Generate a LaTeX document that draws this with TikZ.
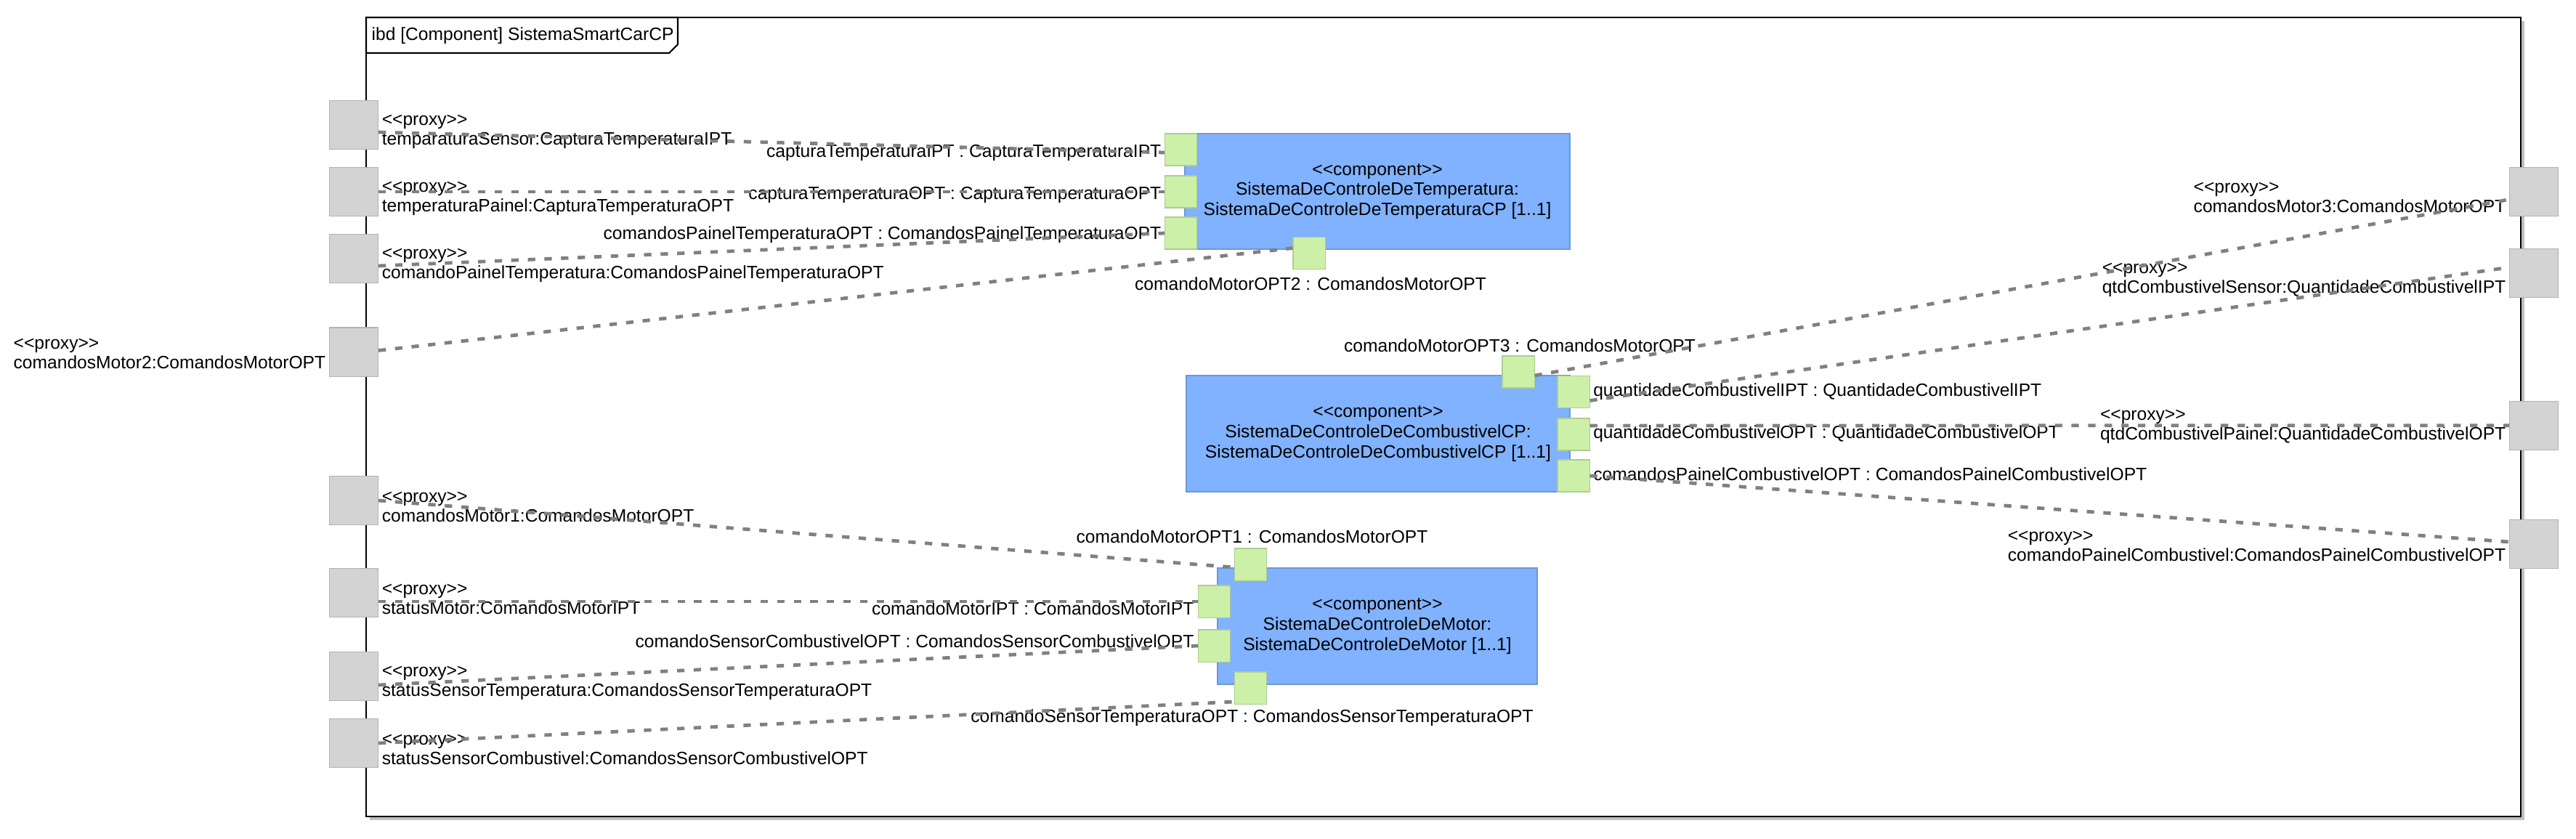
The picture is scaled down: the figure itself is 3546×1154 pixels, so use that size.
\documentclass[tikz,border=0pt]{standalone}
\usepackage{fontspec}
\setmainfont{Liberation Sans}[Ligatures=TeXOff]
\usepackage{tikz}
\usetikzlibrary{%
  positioning,%
  calc%
}

\definecolor{portgray}{RGB}{211,211,211}
\definecolor{portgreen}{RGB}{205,240,168}
\definecolor{compblue}{RGB}{128,178,255}
\definecolor{linkgray}{RGB}{128,128,128}

\tikzset{
  proxyport/.style={rectangle, fill=portgray, draw=portgray!85!black, line width=0.3pt,
    minimum width=0.67cm, minimum height=0.67cm, inner sep=0pt},
  partport/.style={rectangle, fill=portgreen, draw=portgreen!85!black, line width=0.3pt,
    minimum width=0.44cm, minimum height=0.44cm, inner sep=0pt},
  component/.style={rectangle, fill=compblue, draw=compblue!85!black, line width=0.4pt,
    align=center, inner sep=0pt, font=\fontsize{7}{7.9}\selectfont},
  lbl/.style={inner sep=0pt, align=left, font=\fontsize{7}{7.7}\selectfont},
  link/.style={draw=linkgray, line width=1.35pt, dash pattern=on 2.9pt off 3.6pt}
}

\begin{document}
\begin{tikzpicture}[x=0.01cm, y=-0.01cm]
\useasboundingbox (0,0) rectangle (3546,1154);
% frame
\fill[black!25] (509,29) rectangle (3475,1129);
\draw[line width=0.6pt, fill=white] (504,24) rectangle (3470,1124);
\draw[line width=0.6pt, fill=white] (504,24) -- (933,24) -- (933,61) -- (921,73) -- (504,73) -- cycle;
\node[lbl, anchor=west] (title) at (511,49) {ibd [Component] SistemaSmartCarCP};

% parts
\node[component, minimum width=5.30cm, minimum height=1.59cm] (temp) at (1896,263.5)
  {<<component>>\\SistemaDeControleDeTemperatura:\\SistemaDeControleDeTemperaturaCP [1..1]};
\node[component, minimum width=5.28cm, minimum height=1.60cm] (comb) at (1897,597)
  {<<component>>\\SistemaDeControleDeCombustivelCP:\\SistemaDeControleDeCombustivelCP [1..1]};
\node[component, minimum width=4.40cm, minimum height=1.60cm] (motor) at (1896,862)
  {<<component>>\\SistemaDeControleDeMotor:\\SistemaDeControleDeMotor [1..1]};

\node[partport] (gCapIPT) at (1625.5,206) {};
\node[partport] (gCapOPT) at (1625.5,264) {};
\node[partport] (gComPT) at (1625.5,321) {};
\node[partport] (gMotor2) at (1802,348.5) {};
\node[partport] (gMotor3) at (2090,512) {};
\node[partport] (gQtdIPT) at (2166,539.5) {};
\node[partport] (gQtdOPT) at (2166,598) {};
\node[partport] (gPainelC) at (2166,655) {};
\node[partport] (gMotor1) at (1721.5,777) {};
\node[partport] (gMotorIPT) at (1671.7,828) {};
\node[partport] (gSensC) at (1671.7,889) {};
\node[partport] (gSensT) at (1721.5,947) {};

\node[lbl, anchor=east] at ($(gCapIPT.west)+(-4,4)$) {capturaTemperaturaIPT : CapturaTemperaturaIPT};
\node[lbl, anchor=east] at ($(gCapOPT.west)+(-4,4)$) {capturaTemperaturaOPT : CapturaTemperaturaOPT};
\node[lbl, anchor=east] at ($(gComPT.west)+(-4,2)$) {comandosPainelTemperaturaOPT : ComandosPainelTemperaturaOPT};
\node[lbl] at ($(gMotor2.south)+(2,20)$) {comandoMotorOPT2 : ComandosMotorOPT};
\node[lbl] at ($(gMotor3.north)+(2,-14)$) {comandoMotorOPT3 : ComandosMotorOPT};
\node[lbl, anchor=west] at ($(gQtdIPT.east)+(4,0)$) {quantidadeCombustivelIPT : QuantidadeCombustivelIPT};
\node[lbl, anchor=west] at ($(gQtdOPT.east)+(4,-1)$) {quantidadeCombustivelOPT : QuantidadeCombustivelOPT};
\node[lbl, anchor=west] at ($(gPainelC.east)+(4,-2)$) {comandosPainelCombustivelOPT : ComandosPainelCombustivelOPT};
\node[lbl] at ($(gMotor1.north)+(2,-16)$) {comandoMotorOPT1 : ComandosMotorOPT};
\node[lbl, anchor=east] at ($(gMotorIPT.west)+(-5,10)$) {comandoMotorIPT : ComandosMotorIPT};
\node[lbl, anchor=east] at ($(gSensC.west)+(-5,-6)$) {comandoSensorCombustivelOPT : ComandosSensorCombustivelOPT};
\node[lbl] at ($(gSensT.south)+(2,19)$) {comandoSensorTemperaturaOPT : ComandosSensorTemperaturaOPT};

% proxy ports
\node[proxyport] (tSensor) at (487,172) {};
\node[proxyport] (tPainel) at (487,264) {};
\node[proxyport] (cPainelT) at (487,356) {};
\node[proxyport] (cMotor2) at (487,484.5) {};
\node[proxyport] (cMotor1) at (487,689) {};
\node[proxyport] (sMotor) at (487,816) {};
\node[proxyport] (sSensT) at (487,931) {};
\node[proxyport] (sSensC) at (487,1023) {};
\node[proxyport] (cMotor3) at (3488,263.6) {};
\node[proxyport] (qSensor) at (3488,376) {};
\node[proxyport] (qPainel) at (3488,585.7) {};
\node[proxyport] (cPainelC) at (3488,749) {};

\node[lbl, anchor=west] at ($(tSensor.east)+(4,9)$) {<<proxy>>\\temparaturaSensor:CapturaTemperaturaIPT};
\node[lbl, anchor=west] at ($(tPainel.east)+(4,9)$) {<<proxy>>\\temperaturaPainel:CapturaTemperaturaOPT};
\node[lbl, anchor=west] at ($(cPainelT.east)+(4,9)$) {<<proxy>>\\comandoPainelTemperatura:ComandosPainelTemperaturaOPT};
\node[lbl, anchor=east] at ($(cMotor2.west)+(-4,2)$) {<<proxy>>\\comandosMotor2:ComandosMotorOPT};
\node[lbl, anchor=west] at ($(cMotor1.east)+(4,9)$) {<<proxy>>\\comandosMotor1:ComandosMotorOPT};
\node[lbl, anchor=west] at ($(sMotor.east)+(4,9)$) {<<proxy>>\\statusMotor:ComandosMotorIPT};
\node[lbl, anchor=west] at ($(sSensT.east)+(4,9)$) {<<proxy>>\\statusSensorTemperatura:ComandosSensorTemperaturaOPT};
\node[lbl, anchor=west] at ($(sSensC.east)+(4,9)$) {<<proxy>>\\statusSensorCombustivel:ComandosSensorCombustivelOPT};
\node[lbl, anchor=east] at ($(cMotor3.west)+(-4,8)$) {<<proxy>>\\comandosMotor3:ComandosMotorOPT};
\node[lbl, anchor=east] at ($(qSensor.west)+(-4,9)$) {<<proxy>>\\qtdCombustivelSensor:QuantidadeCombustivelIPT};
\node[lbl, anchor=east] at ($(qPainel.west)+(-4,2)$) {<<proxy>>\\qtdCombustivelPainel:QuantidadeCombustivelOPT};
\node[lbl, anchor=east] at ($(cPainelC.west)+(-4,3)$) {<<proxy>>\\comandoPainelCombustivel:ComandosPainelCombustivelOPT};

% connectors
\draw[link] ($(tSensor.east)+(0,10)$) -- ($(gCapIPT.west)+(0,4)$);
\draw[link] (tPainel.east) -- (gCapOPT.west);
\draw[link] ($(cPainelT.east)+(0,10)$) -- (gComPT.west);
\draw[link] ($(cMotor2.east)+(0,-2)$) -- ($(gMotor2.west)+(0,-7)$);
\draw[link] (cMotor1.east) -- ($(gMotor1.west)+(0,4)$);
\draw[link] ($(sMotor.east)+(0,12)$) -- (gMotorIPT.west);
\draw[link] ($(sSensT.east)+(0,12)$) -- (gSensC.west);
\draw[link] (sSensC.east) -- ($(gSensT.west)+(0,19)$);
\draw[link] ($(gMotor3.east)+(0,5)$) -- ($(cMotor3.west)+(0,11)$);
\draw[link] ($(gQtdIPT.east)+(0,12)$) -- ($(qSensor.west)+(0,-8)$);
\draw[link] ($(gQtdOPT.east)+(0,-12)$) -- (qPainel.west);
\draw[link] (gPainelC.east) -- ($(cPainelC.west)+(0,-3)$);
\end{tikzpicture}
\end{document}
